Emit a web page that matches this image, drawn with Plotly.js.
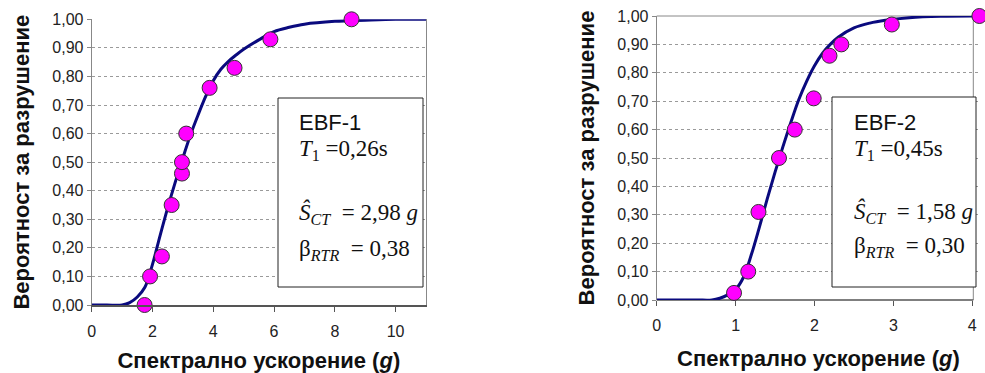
<!DOCTYPE html>
<html>
<head>
<meta charset="utf-8">
<script src="https://cdn.plot.ly/plotly-3.0.1.min.js"></script>
<style>html,body{margin:0;padding:0;background:#fff;}#chart{width:985px;height:373px;}</style>
</head>
<body>
<div id="chart"></div>
<script>
// EBF-1 observed points
const ebf1X = [1.74, 1.92, 2.31, 2.63, 2.97, 2.97, 3.11, 3.88, 4.70, 5.88, 8.55];
const ebf1Y = [0.00, 0.10, 0.17, 0.35, 0.46, 0.50, 0.60, 0.76, 0.83, 0.93, 1.00];
// EBF-1 fitted curve
const ebf1CurveX = [0, 0.5, 1.0, 1.25, 1.5, 1.75, 2.0, 2.25, 2.5, 2.75, 3.0, 3.25, 3.5, 3.75, 4.0, 4.25, 4.5, 4.75, 5.0, 5.5, 6.0, 6.5, 7.0, 8.0, 9.0, 10.0, 11.0];
const ebf1CurveY = [0, 0, 0, 0.008, 0.028, 0.062, 0.142, 0.243, 0.34, 0.43, 0.515, 0.595, 0.665, 0.73, 0.785, 0.825, 0.853, 0.875, 0.895, 0.928, 0.957, 0.972, 0.983, 0.993, 0.997, 1.0, 1.0];
// EBF-2 observed points
const ebf2X = [0.98, 1.16, 1.29, 1.55, 1.75, 1.99, 2.19, 2.34, 2.98, 4.09];
const ebf2Y = [0.025, 0.10, 0.31, 0.50, 0.60, 0.71, 0.86, 0.90, 0.97, 1.00];
// EBF-2 fitted curve
const ebf2CurveX = [0, 0.5, 0.7, 0.8, 0.9, 1.0, 1.1, 1.2, 1.3, 1.4, 1.5, 1.6, 1.7, 1.8, 1.9, 2.0, 2.1, 2.2, 2.3, 2.5, 2.7, 2.9, 3.2, 3.6, 4.01];
const ebf2CurveY = [0, 0, 0, 0.006, 0.018, 0.037, 0.08, 0.16, 0.255, 0.355, 0.45, 0.54, 0.625, 0.705, 0.77, 0.825, 0.868, 0.90, 0.925, 0.958, 0.975, 0.985, 0.994, 0.999, 1.0];

const yTickVals = [0, 0.1, 0.2, 0.3, 0.4, 0.5, 0.6, 0.7, 0.8, 0.9, 1.0];
const x1TickVals = [0, 2, 4, 6, 8, 10];
const x2TickVals = [0, 1, 2, 3, 4];

const yTitle = 'Вероятност за разрушение';
const xTitle = 'Спектрално ускорение (<i>g</i>)';
const box1Lines = ['EBF-1', '<i>T</i><sub>1</sub> =0,26s', '<i>Ŝ</i><sub><i>CT</i></sub>  = 2,98 <i>g</i>', 'β<sub><i>RTR</i></sub>  = 0,38'];
const box2Lines = ['EBF-2', '<i>T</i><sub>1</sub> =0,45s', '<i>Ŝ</i><sub><i>CT</i></sub>  = 1,58 <i>g</i>', 'β<sub><i>RTR</i></sub>  = 0,30'];

const W = 985, H = 373;
const px = v => v / W, py = v => 1 - v / H;

const lineCol = '#0a0a7e';
const markerStyle = {size: 15, color: '#ff00ff', line: {color: '#333333', width: 1}};

const data = [
  {x: ebf1CurveX, y: ebf1CurveY, xaxis: 'x', yaxis: 'y', mode: 'lines', line: {color: lineCol, width: 3, shape: 'spline', smoothing: 1}, hoverinfo: 'skip'},
  {x: ebf1X, y: ebf1Y, xaxis: 'x', yaxis: 'y', mode: 'markers', marker: markerStyle, cliponaxis: false},
  {x: ebf2CurveX, y: ebf2CurveY, xaxis: 'x2', yaxis: 'y2', mode: 'lines', line: {color: lineCol, width: 3, shape: 'spline', smoothing: 1}, hoverinfo: 'skip'},
  {x: ebf2X, y: ebf2Y, xaxis: 'x2', yaxis: 'y2', mode: 'markers', marker: markerStyle, cliponaxis: false}
];

const tickFont = {family: 'Liberation Sans, Arial, sans-serif', size: 16, color: '#222'};
const titleFont = {family: 'Liberation Sans, Arial, sans-serif', size: 22, color: '#111', weight: 'bold'};

function yAxis(domain, anchor, mirror) {
  return {
    domain: domain, anchor: anchor, range: [0, 1], tickvals: yTickVals, tickformat: '.2f',
    showgrid: true, gridcolor: '#9a9a9a', griddash: 'dot', gridwidth: 1,
    showline: true, linecolor: '#888', linewidth: 1, mirror: mirror,
    ticks: 'outside', ticklen: 4, tickcolor: '#888',
    tickfont: tickFont, zeroline: false,
    title: {text: '<b>' + yTitle + '</b>', font: titleFont, standoff: 16}
  };
}
function xAxis(domain, anchor, range, tv, showline) {
  return {
    domain: domain, anchor: anchor, range: range, tickvals: tv,
    showgrid: false, showline: showline, linecolor: '#555', linewidth: 1.5,
    ticks: 'outside', ticklen: 5, tickcolor: '#555', ticklabelstandoff: 6,
    tickfont: tickFont, zeroline: false,
    title: {text: '<b>' + xTitle + '</b>', font: titleFont, standoff: 17}
  };
}

function boxAnnots(lines, x0, ys) {
  return lines.map((t, i) => ({
    xref: 'paper', yref: 'paper', x: px(x0), y: py(ys[i]), xanchor: 'left', yanchor: 'middle',
    text: t, showarrow: false,
    font: i === 0 ? {family: 'Liberation Sans, Arial, sans-serif', size: 22, color: '#111'}
                  : {family: 'Liberation Serif, Times New Roman, serif', size: 23, color: '#111'}
  }));
}

// right panel: axis scale so that 4 sits at x=972.3 px; range extends to 4.1 so the last marker shows
const r0 = 656.7, rUnit = 78.9, rMax = 4.1;

const layout = {
  width: W, height: H, margin: {l: 0, r: 0, t: 0, b: 0},
  paper_bgcolor: '#fff', plot_bgcolor: '#fff', showlegend: false,
  separators: ', ',
  xaxis: xAxis([px(91.7), px(426)], 'y', [0, 11], x1TickVals, true),
  yaxis: yAxis([1 - 305 / H, 1 - 19.3 / H], 'x', true),
  xaxis2: xAxis([px(r0), px(r0 + rUnit * rMax)], 'y2', [0, rMax], x2TickVals, false),
  yaxis2: yAxis([1 - 300 / H, 1 - 16 / H], 'x2', false),
  shapes: [
    // hide gridline stubs beyond the right panel frame
    {type: 'rect', xref: 'paper', yref: 'paper', x0: px(973.8), x1: px(985), y0: py(300), y1: py(14), line: {width: 0}, fillcolor: '#fff', layer: 'between'},
    // right panel frame (top + right)
    {type: 'path', xref: 'paper', yref: 'paper', path: `M ${px(r0)} ${py(16)} L ${px(973.3)} ${py(16)} L ${px(973.3)} ${py(300)}`, line: {color: '#888', width: 1}, layer: 'between'},
    // right panel x-axis line
    {type: 'line', xref: 'paper', yref: 'paper', x0: px(r0), x1: px(973.3), y0: py(300), y1: py(300), line: {color: '#555', width: 1.5}, layer: 'between'},
    {type: 'rect', xref: 'paper', yref: 'paper', x0: px(278), x1: px(423), y0: py(98), y1: py(287), line: {color: '#222', width: 1}, fillcolor: '#fff', layer: 'above'},
    {type: 'rect', xref: 'paper', yref: 'paper', x0: px(832), x1: px(976), y0: py(97), y1: py(287), line: {color: '#222', width: 1}, fillcolor: '#fff', layer: 'above'}
  ],
  annotations: [
    ...boxAnnots(box1Lines, 297, [122, 150, 213, 250]),
    ...boxAnnots(box2Lines, 852, [122, 150, 212, 247])
  ]
};

Plotly.newPlot('chart', data, layout, {staticPlot: true, displayModeBar: false});
</script>
</body>
</html>
